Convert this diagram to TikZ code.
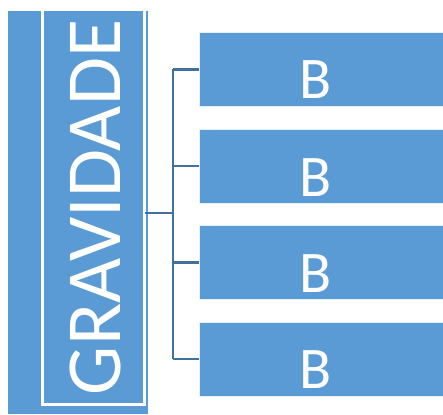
\documentclass[tikz,border=0pt]{standalone}
\usepackage{fontspec}
\setmainfont{Carlito}
\definecolor{boxblue}{HTML}{5B9BD5}
\definecolor{linkblue}{HTML}{41719C}
\tikzset{
  leaf/.style={draw=white!85!boxblue, line width=0.8pt, fill=boxblue, minimum width=250pt,
    minimum height=74pt, anchor=north west, inner sep=0pt},
  leaflabel/.style={text=white, font=\fontsize{59}{59}\selectfont, anchor=base, inner sep=0pt},
  link/.style={draw=linkblue, line width=2.5pt}
}
\begin{document}
\begin{tikzpicture}[x=1pt,y=-1pt]
\useasboundingbox (0,0) rectangle (443,414);
\clip (0,0) rectangle (443,414);
% title column
\fill[boxblue] (8,11) rectangle (148,414);
\draw[white, line width=3pt] (42,9) rectangle (144.5,404);
\node (frame) at (93.25,206.5) [minimum width=102.5pt, minimum height=395pt, inner sep=0pt] {};
\node (title) at (95,207.5) [rotate=90, text=white, inner sep=0pt,
  font=\fontsize{78}{78}\selectfont] {GRAVIDADE};
% branch boxes
\node[leaf] (b1) at (199,32) {};
\node[leaf] (b2) at (199,128.5) {};
\node[leaf] (b3) at (199,225) {};
\node[leaf] (b4) at (199,321.5) {};
\node[leaflabel] (t1) at (316,99) {B};
\node[leaflabel] (t2) at (316,196) {B};
\node[leaflabel] (t3) at (316,292) {B};
\node[leaflabel] (t4) at (316,388) {B};
% connectors
\coordinate (hub) at (173,213);
\draw[link] (frame.east |- hub) -- (hub);
\draw[link] (b1.west -| hub) -- (b4.west -| hub);
\draw[link] (b1.west -| hub) -- (b1.west);
\draw[link] (b2.west -| hub) -- (b2.west);
\draw[link] (b3.west -| hub) -- (b3.west);
\draw[link] (b4.west -| hub) -- (b4.west);
\end{tikzpicture}
\end{document}
